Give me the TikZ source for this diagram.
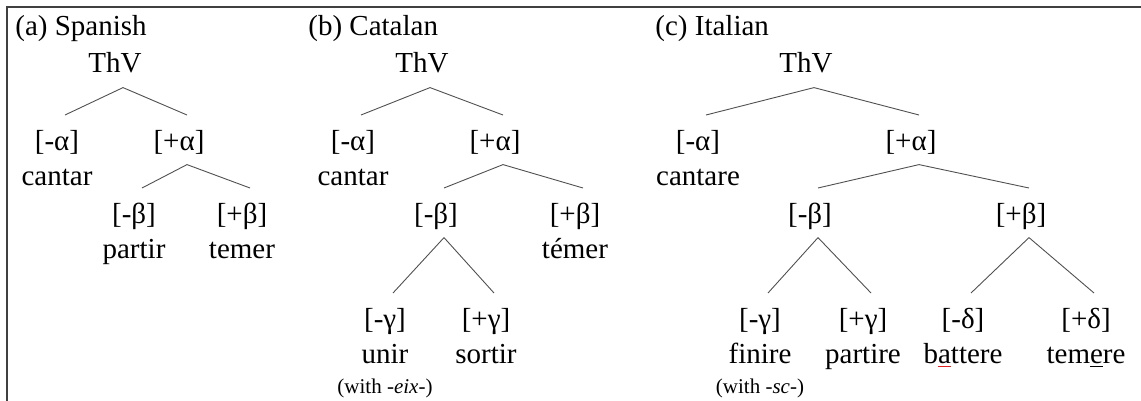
\documentclass[tikz,border=0pt]{standalone}
\usepackage{fontspec}
\setmainfont{Liberation Serif}
\usetikzlibrary{positioning}
\definecolor{framecol}{HTML}{404040}
\definecolor{branchcol}{HTML}{505050}
\definecolor{markred}{HTML}{E02020}

\begin{document}
\begin{tikzpicture}[
x=0.5pt, y=-0.5pt,
every node/.style={font=\fontsize{14.5}{17}\selectfont},
head/.style={anchor=base west, inner sep=0pt},
tn/.style={anchor=base, inner xsep=0pt, inner ysep=3.5pt, text height=13.8pt, text depth=3.6pt},
word/.style={inner sep=0pt, text height=10.2pt, text depth=3.6pt},
note/.style={inner sep=0pt, text height=7.35pt, text depth=2.6pt, font=\fontsize{10.5}{12}\selectfont},
branch/.style={draw=branchcol, line width=0.45pt}
]
\useasboundingbox (0,0) rectangle (1141,401);
\draw[framecol, line width=1pt] (7,401) -- (7,7) -- (1141,7);

% (a) Spanish
\node[head] (esHead) at (15,36) {(a) Spanish};
\node[tn] (esThv) at (115,73) {ThV};
\node[tn] (esA1) at (57,150) {[-α]};
\node[word, below=0pt of esA1] (esCantar) {cantar};
\node[tn] (esA2) at (179,150) {[+α]};
\node[tn] (esB1) at (134,223) {[-β]};
\node[word, below=0pt of esB1] (esPartir) {partir};
\node[tn] (esB2) at (242,223) {[+β]};
\node[word, below=0pt of esB2] (esTemer) {temer};
\draw[branch] ([xshift=4pt]esThv.south) -- ([xshift=4pt]esA1.north);
\draw[branch] ([xshift=4pt]esThv.south) -- ([xshift=4pt]esA2.north);
\draw[branch] ([xshift=4pt]esA2.south) -- ([xshift=4pt]esB1.north);
\draw[branch] ([xshift=4pt]esA2.south) -- ([xshift=4pt]esB2.north);

% (b) Catalan
\node[head] (caHead) at (308,36) {(b) Catalan};
\node[tn] (caThv) at (422,73) {ThV};
\node[tn] (caA1) at (353,150) {[-α]};
\node[word, below=0pt of caA1] (caCantar) {cantar};
\node[tn] (caA2) at (495,150) {[+α]};
\node[tn] (caB1) at (436,223) {[-β]};
\node[tn] (caB2) at (575,223) {[+β]};
\node[word, below=0pt of caB2] (caTemer) {témer};
\node[tn] (caG1) at (385,328) {[-γ]};
\node[word, below=0pt of caG1] (caUnir) {unir};
\node[note, below=3.5pt of caUnir] (caEix) {(with -\textit{eix}-)};
\node[tn] (caG2) at (486,328) {[+γ]};
\node[word, below=0pt of caG2] (caSortir) {sortir};
\draw[branch] ([xshift=4pt]caThv.south) -- ([xshift=4pt]caA1.north);
\draw[branch] ([xshift=4pt]caThv.south) -- ([xshift=4pt]caA2.north);
\draw[branch] ([xshift=4pt]caA2.south) -- ([xshift=4pt]caB1.north);
\draw[branch] ([xshift=4pt]caA2.south) -- ([xshift=4pt]caB2.north);
\draw[branch] ([xshift=4pt]caB1.south) -- ([xshift=4pt]caG1.north);
\draw[branch] ([xshift=4pt]caB1.south) -- ([xshift=4pt]caG2.north);

% (c) Italian
\node[head] (itHead) at (655,36) {(c) Italian};
\node[tn] (itThv) at (806,73) {ThV};
\node[tn] (itA1) at (698,150) {[-α]};
\node[word, below=0pt of itA1] (itCantare) {cantare};
\node[tn] (itA2) at (911,150) {[+α]};
\node[tn] (itB1) at (810,223) {[-β]};
\node[tn] (itB2) at (1021,223) {[+β]};
\node[tn] (itG1) at (760,328) {[-γ]};
\node[word, below=0pt of itG1] (itFinire) {finire};
\node[note, below=3.5pt of itFinire] (itSc) {(with -\textit{sc}-)};
\node[tn] (itG2) at (863,328) {[+γ]};
\node[word, below=0pt of itG2] (itPartire) {partire};
\node[tn] (itD1) at (963,328) {[-δ]};
\node[word, below=0pt of itD1] (itBattere) {b\textcolor{markred}{\underline{\textcolor{black}{a}}}ttere};
\node[tn] (itD2) at (1086,328) {[+δ]};
\node[word, below=0pt of itD2] (itTemere) {tem\underline{e}re};
\draw[branch] ([xshift=4pt]itThv.south) -- ([xshift=4pt]itA1.north);
\draw[branch] ([xshift=4pt]itThv.south) -- ([xshift=4pt]itA2.north);
\draw[branch] ([xshift=4pt]itA2.south) -- ([xshift=4pt]itB1.north);
\draw[branch] ([xshift=4pt]itA2.south) -- ([xshift=4pt]itB2.north);
\draw[branch] ([xshift=4pt]itB1.south) -- ([xshift=4pt]itG1.north);
\draw[branch] ([xshift=4pt]itB1.south) -- ([xshift=4pt]itG2.north);
\draw[branch] ([xshift=4pt]itB2.south) -- ([xshift=4pt]itD1.north);
\draw[branch] ([xshift=4pt]itB2.south) -- ([xshift=4pt]itD2.north);
\end{tikzpicture}
\end{document}
